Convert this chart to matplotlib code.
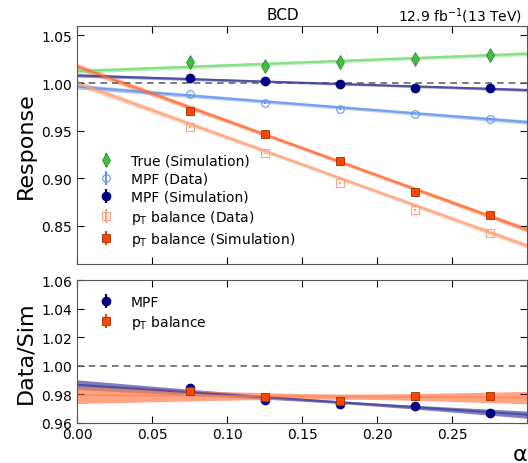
import matplotlib
import matplotlib.pyplot as plt
import numpy as np

matplotlib.use('Agg')

# alpha bins
alpha = [0.075, 0.125, 0.175, 0.225, 0.275]

# response points
true_sim = [1.022, 1.018, 1.022, 1.025, 1.029]
mpf_data = [0.988, 0.979, 0.973, 0.968, 0.962]
mpf_sim = [1.005, 1.002, 0.999, 0.995, 0.995]
pt_data = [0.954, 0.926, 0.895, 0.867, 0.842]
pt_sim = [0.971, 0.946, 0.918, 0.886, 0.861]
resp_err = [0.001, 0.001, 0.001, 0.001, 0.001]

# ratio points
ratio_mpf = [0.984, 0.976, 0.973, 0.972, 0.967]
ratio_pt = [0.982, 0.978, 0.975, 0.979, 0.979]
ratio_err = [0.0015, 0.0015, 0.0015, 0.0015, 0.0015]

# linear fits: intercept, slope, band width at centre, slope uncertainty
fit_true = (1.0125, 0.061, 0.0018, 0.008)
fit_mpf_data = (0.9962, -0.124, 0.0018, 0.010)
fit_mpf_sim = (1.0080, -0.051, 0.0012, 0.008)
fit_pt_data = (1.0000, -0.570, 0.0020, 0.014)
fit_pt_sim = (1.0175, -0.572, 0.0020, 0.014)
fit_ratio_mpf = (0.9866, -0.070, 0.0010, 0.0186)
fit_ratio_pt = (0.9793, -0.0057, 0.0018, 0.032)


def draw_fit(ax, fit, color, line_alpha=0.8, band_alpha=0.5, lw=1.5):
    a, b, w0, wb = fit
    xs = np.linspace(0, 0.30, 100)
    ys = a + b * xs
    hw = np.sqrt(w0 ** 2 + (wb * (xs - 0.175)) ** 2)
    ax.fill_between(xs, ys - hw, ys + hw, color=color, alpha=band_alpha, lw=0)
    ax.plot(xs, ys, color=color, alpha=line_alpha, lw=lw)


fig = plt.figure(figsize=(5.28, 4.64), dpi=100)
ax1 = fig.add_axes([0.1458, 0.429, 0.853, 0.513])
ax2 = fig.add_axes([0.1458, 0.0870, 0.853, 0.307])

green = '#3fbf3f'
light_green = '#77dd77'
navy = '#000080'
blue = '#6495ED'
salmon = '#FFA07A'
orange = '#FF4500'

# top panel
ax1.axhline(1.0, color='#666666', ls='--', lw=1.2, dashes=(4, 3))
draw_fit(ax1, fit_true, light_green)
draw_fit(ax1, fit_mpf_data, blue)
draw_fit(ax1, fit_mpf_sim, '#3a3a99')
draw_fit(ax1, fit_pt_data, salmon)
draw_fit(ax1, fit_pt_sim, '#ff6a33')

ax1.errorbar(alpha, true_sim, yerr=resp_err, fmt='d', color=green, mec='#2a7a2a',
             mew=0.5, ms=7, label='True (Simulation)', zorder=5)
ax1.errorbar(alpha, mpf_data, yerr=resp_err, fmt='o', color=blue, mfc='none',
             ms=5.5, mew=0.8, label='MPF (Data)', zorder=5)
ax1.errorbar(alpha, mpf_sim, yerr=resp_err, fmt='o', color=navy, ms=6,
             label='MPF (Simulation)', zorder=5)
ax1.errorbar(alpha, pt_data, yerr=resp_err, fmt='s', color=salmon, mfc='none',
             ms=5.5, mew=0.8, label=r'p$_\mathrm{T}$ balance (Data)', zorder=5)
ax1.errorbar(alpha, pt_sim, yerr=resp_err, fmt='s', color=orange, mec='#993300',
             mew=0.6, ms=6, label=r'p$_\mathrm{T}$ balance (Simulation)', zorder=5)

ax1.set_xlim(0, 0.30)
ax1.set_ylim(0.81, 1.06)
ax1.set_yticks([0.85, 0.90, 0.95, 1.00, 1.05])
ax1.set_xticks([0, 0.05, 0.10, 0.15, 0.20, 0.25, 0.30])
ax1.set_xticklabels([])
ax1.set_ylabel('Response', fontsize=16)
ax1.legend(loc='center left', bbox_to_anchor=(0.005, 0.265), frameon=False,
           fontsize=10, labelspacing=0.3, handletextpad=0.8)

# bottom panel
ax2.axhline(1.0, color='#666666', ls='--', lw=1.2, dashes=(4, 3))
draw_fit(ax2, fit_ratio_mpf, '#3a3a99', line_alpha=0.7, band_alpha=0.65)
draw_fit(ax2, fit_ratio_pt, '#FF7F50', line_alpha=0.6, band_alpha=0.7)
ax2.errorbar(alpha, ratio_mpf, yerr=ratio_err, fmt='o', color=navy, ms=6,
             label='MPF', zorder=5)
ax2.errorbar(alpha, ratio_pt, yerr=ratio_err, fmt='s', color=orange, mec='#993300',
             mew=0.6, ms=6, label=r'p$_\mathrm{T}$ balance', zorder=5)
ax2.set_xlim(0, 0.30)
ax2.set_ylim(0.96, 1.06)
ax2.set_yticks([0.96, 0.98, 1.00, 1.02, 1.04, 1.06])
ax2.set_xticks([0, 0.05, 0.10, 0.15, 0.20, 0.25])
ax2.set_ylabel('Data/Sim', fontsize=16)
ax2.set_xlabel('α', fontsize=16, loc='right', labelpad=2)
ax2.legend(loc='center left', bbox_to_anchor=(0.005, 0.77), frameon=False,
           fontsize=10, labelspacing=0.3, handletextpad=0.8)

for ax in (ax1, ax2):
    ax.tick_params(direction='in', top=True, right=True, labelsize=10, length=5)
    for s in ax.spines.values():
        s.set_color('#555555')

fig.text(283 / 528, 1 - 16 / 464, 'BCD', ha='center', va='center', fontsize=11)
fig.text(522 / 528, 1 - 16 / 464, r'12.9 fb$^{-1}$(13 TeV)', ha='right',
         va='center', fontsize=10)

fig.savefig('out.png', dpi=100)
